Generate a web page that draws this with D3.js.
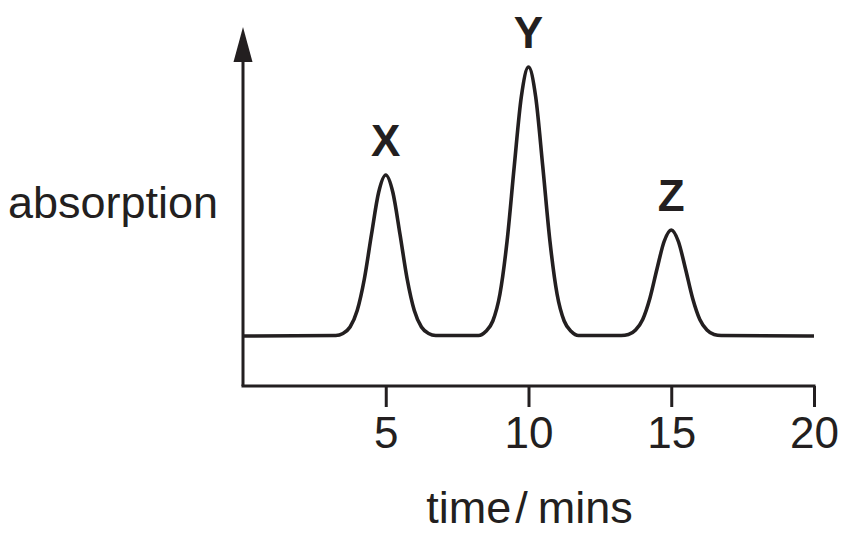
<!DOCTYPE html>
<html>
<head>
<meta charset="utf-8">
<script src="https://d3js.org/d3.v7.min.js"></script>
<style>
  body { margin: 0; background: white; }
  text { font-family: "Liberation Sans", Arial, sans-serif; fill: #231f20; }
</style>
</head>
<body>
<div id="svg-container"></div>
<script>
// chromatogram (baseline = 0)
var times = [0, 3.25, 3.5, 3.75, 4, 4.25, 4.5, 4.75, 5, 5.25, 5.5, 5.75, 6, 6.25, 6.5, 6.75,
  8.25, 8.5, 8.75, 9, 9.25, 9.5, 9.75, 10, 10.25, 10.5, 10.75, 11, 11.25, 11.5, 11.75,
  13.25, 13.5, 13.75, 14, 14.25, 14.5, 14.75, 15, 15.25, 15.5, 15.75, 16, 16.25, 16.5, 16.75, 20];
var absorption = [0, 0.01, 0.05, 0.18, 0.51, 1.14, 2.03, 2.87, 3.22, 2.87, 2.03, 1.14, 0.51, 0.18, 0.05, 0.01,
  0.01, 0.09, 0.30, 0.84, 1.90, 3.39, 4.79, 5.38, 4.79, 3.39, 1.90, 0.84, 0.30, 0.09, 0.01,
  0.01, 0.03, 0.12, 0.33, 0.75, 1.34, 1.89, 2.12, 1.89, 1.34, 0.75, 0.33, 0.12, 0.03, 0.01, 0];

var peakNames = ['X', 'Y', 'Z'];
var peakTimes = [5, 10, 15];
var peakHeights = [3.22, 5.38, 2.12];

var tickValues = [5, 10, 15, 20];

var w = 844;
var h = 534;
var ink = '#231f20';

var svg = d3.select('#svg-container')
  .append('svg')
  .attr('width', w)
  .attr('height', h);

var x = d3.scaleLinear().domain([0, 20]).range([243, 814]);
var y = d3.scaleLinear().domain([0, 5.38]).range([336, 67]);

var axisY = y(-1);   // x axis sits a bit below the baseline
var topY = y(6.18);  // arrow tip

// x axis
var xAxis = d3.axisBottom(x)
  .tickValues(tickValues)
  .tickSize(21)
  .tickPadding(10)
  .tickSizeOuter(0)
  .tickFormat(d3.format('d'));

var gx = svg.append('g')
  .attr('transform', 'translate(0,' + axisY + ')')
  .call(xAxis);
gx.select('.domain').remove();
gx.selectAll('line').attr('stroke', ink).attr('stroke-width', 3);
gx.selectAll('text')
  .attr('font-size', '44px')
  .attr('font-family', '"Liberation Sans", Arial, sans-serif')
  .attr('fill', ink)
  .attr('dy', '0.71em');

svg.append('line')
  .attr('x1', x(0) - 1.5).attr('x2', x(20) + 1.5)
  .attr('y1', axisY).attr('y2', axisY)
  .attr('stroke', ink).attr('stroke-width', 3);

// y axis with arrow head
svg.append('line')
  .attr('x1', x(0)).attr('x2', x(0))
  .attr('y1', axisY).attr('y2', topY + 30)
  .attr('stroke', ink).attr('stroke-width', 3);

svg.append('path')
  .attr('d', 'M' + x(0) + ',' + topY + 'L' + (x(0) + 9.5) + ',' + (topY + 35) +
    'L' + (x(0) - 9.5) + ',' + (topY + 35) + 'Z')
  .attr('fill', ink);

// the trace
var line = d3.line()
  .x(function(d, i) { return x(times[i]); })
  .y(function(d) { return y(d); })
  .curve(d3.curveMonotoneX);

svg.append('path')
  .datum(absorption)
  .attr('d', line)
  .attr('fill', 'none')
  .attr('stroke', ink)
  .attr('stroke-width', 3.6)
  .attr('stroke-linejoin', 'round');

// peak letters
svg.selectAll('.peak')
  .data(peakNames)
  .enter().append('text')
  .attr('class', 'peak')
  .attr('x', function(d, i) { return x(peakTimes[i]); })
  .attr('y', function(d, i) { return y(peakHeights[i]) - 19; })
  .attr('text-anchor', 'middle')
  .attr('font-size', '44px')
  .attr('font-weight', 'bold')
  .text(function(d) { return d; });

// axis titles
svg.append('text')
  .attr('x', 8)
  .attr('y', 218)
  .attr('font-size', '45px')
  .text('absorption');

var title = svg.append('text')
  .attr('x', x(10) + 1)
  .attr('y', 523)
  .attr('text-anchor', 'middle')
  .attr('font-size', '45px');
title.append('tspan').text('time');
title.append('tspan').attr('dx', 4).text('/');
title.append('tspan').attr('dx', 10).text('mins');
</script>
</body>
</html>
